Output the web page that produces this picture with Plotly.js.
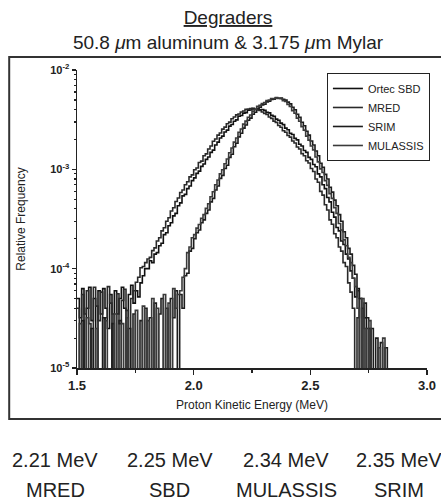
<!DOCTYPE html>
<html><head><meta charset="utf-8">
<script src="https://cdn.plot.ly/plotly-3.0.1.min.js"></script>
<style>html,body{margin:0;padding:0;background:#fff}#chart{width:441px;height:500px}</style>
</head><body><div id="chart"></div>
<script>
// ---- data ----
const energyStart = 1.50;   // MeV, first histogram bin
const energyStep = 0.01;    // MeV, bin width
const seriesNames = ['Ortec SBD', 'MRED', 'SRIM', 'MULASSIS'];
// 1e-6 marks an empty bin (drawn down to the bottom of the log axis)
const sbd = [
 5.0e-5,3.2e-5,6.3e-5,1e-6,4.0e-5,6.5e-5,3.0e-5,5.0e-5,1e-6,6.0e-5,
 3.5e-5,6.3e-5,4.0e-5,2.5e-5,5.5e-5,1e-6,6.0e-5,3.5e-5,5.0e-5,6.5e-5,
 4.0e-5,1e-6,5.5e-5,6.8e-5,4.5e-5,6.0e-5,5.2e-5,7.2e-5,8.5e-5,1.0e-4,
 1.0e-4,1.2e-4,1.15e-4,1.4e-4,1.45e-4,1.7e-4,1.8e-4,2.2e-4,2.3e-4,2.7e-4,
 2.9e-4,3.4e-4,3.6e-4,4.3e-4,4.6e-4,5.4e-4,5.6e-4,6.4e-4,6.8e-4,7.7e-4,
 8.2e-4,9.1e-4,9.6e-4,1.07e-3,1.13e-3,1.26e-3,1.33e-3,1.48e-3,1.56e-3,1.76e-3,
 1.88e-3,2.07e-3,2.16e-3,2.38e-3,2.48e-3,2.72e-3,2.83e-3,3.05e-3,3.15e-3,3.42e-3,
 3.48e-3,3.68e-3,3.72e-3,3.93e-3,3.95e-3,4.12e-3,4.02e-3,4.1e-3,3.98e-3,4.0e-3,
 3.92e-3,3.75e-3,3.7e-3,3.5e-3,3.42e-3,3.2e-3,3.12e-3,2.92e-3,2.82e-3,2.6e-3,
 2.5e-3,2.3e-3,2.24e-3,2.05e-3,1.98e-3,1.79e-3,1.72e-3,1.55e-3,1.48e-3,1.32e-3,
 1.26e-3,1.12e-3,1.06e-3,9.0e-4,8.4e-4,7.0e-4,6.4e-4,5.2e-4,4.7e-4,3.7e-4,
 3.3e-4,2.6e-4,2.4e-4,1.9e-4,1.75e-4,1.4e-4,1.25e-4,9.5e-5,8.0e-5,5.2e-5,
 6.3e-5,1e-6,4.0e-5,3.2e-5,1e-6,2.5e-5,1e-6,1e-6,1e-6,1e-6,
 1e-6,1e-6,1e-6,1e-6,1e-6,1e-6
];
const mred = [
 4.0e-5,1e-6,5.5e-5,3.5e-5,6.0e-5,2.8e-5,1e-6,6.5e-5,4.2e-5,3.0e-5,
 5.8e-5,1e-6,3.2e-5,6.6e-5,4.5e-5,3.5e-5,1e-6,5.6e-5,2.8e-5,4.8e-5,
 6.2e-5,3.8e-5,1e-6,5.0e-5,6.0e-5,7.3e-5,8.2e-5,1.02e-4,1.05e-4,1.15e-4,
 1.25e-4,1.3e-4,1.52e-4,1.62e-4,1.9e-4,2.05e-4,2.4e-4,2.58e-4,3.0e-4,3.25e-4,
 3.8e-4,4.1e-4,4.75e-4,5.15e-4,5.85e-4,6.2e-4,7.0e-4,7.5e-4,8.4e-4,8.8e-4,
 9.9e-4,1.03e-3,1.17e-3,1.21e-3,1.37e-3,1.43e-3,1.6e-3,1.72e-3,1.92e-3,2.02e-3,
 2.21e-3,2.32e-3,2.54e-3,2.66e-3,2.88e-3,2.99e-3,3.23e-3,3.36e-3,3.53e-3,3.6e-3,
 3.78e-3,3.86e-3,4.02e-3,4.04e-3,4.1e-3,4.05e-3,4.0e-3,3.96e-3,3.91e-3,3.78e-3,
 3.65e-3,3.57e-3,3.36e-3,3.26e-3,3.06e-3,2.97e-3,2.76e-3,2.65e-3,2.45e-3,2.36e-3,
 2.19e-3,2.11e-3,1.93e-3,1.84e-3,1.68e-3,1.6e-3,1.44e-3,1.37e-3,1.22e-3,1.16e-3,
 1.02e-3,9.5e-4,8.0e-4,7.4e-4,6.0e-4,5.5e-4,4.4e-4,3.9e-4,3.1e-4,2.8e-4,
 2.25e-4,2.05e-4,1.65e-4,1.5e-4,1.15e-4,1.05e-4,7.2e-5,5.8e-5,4.0e-5,1e-6,
 3.2e-5,5.0e-5,1e-6,1e-6,2.5e-5,1e-6,1e-6,1e-6,1e-6,1e-6,
 1e-6,1e-6,1e-6,1e-6,1e-6,1e-6
];
const srim = [
 1e-6,1e-6,3.0e-5,1e-6,1e-6,1e-6,2.5e-5,1e-6,1e-6,1e-6,
 1e-6,3.2e-5,1e-6,1e-6,1e-6,2.8e-5,1e-6,1e-6,3.0e-5,1e-6,
 1e-6,1e-6,2.5e-5,1e-6,3.5e-5,1e-6,1e-6,3.0e-5,1e-6,4.0e-5,
 1e-6,3.2e-5,1e-6,4.5e-5,1e-6,3.5e-5,5.0e-5,1e-6,4.0e-5,1e-6,
 5.0e-5,3.2e-5,6.0e-5,1e-6,5.5e-5,4.0e-5,8.5e-5,9.0e-5,1.5e-4,1.6e-4,
 2.0e-4,2.3e-4,2.45e-4,2.9e-4,3.1e-4,3.6e-4,3.9e-4,4.7e-4,5.1e-4,6.2e-4,
 6.8e-4,8.1e-4,8.7e-4,1.02e-3,1.1e-3,1.32e-3,1.42e-3,1.69e-3,1.83e-3,2.12e-3,
 2.31e-3,2.6e-3,2.79e-3,3.12e-3,3.28e-3,3.58e-3,3.76e-3,4.07e-3,4.22e-3,4.46e-3,
 4.52e-3,4.78e-3,4.85e-3,5.06e-3,5.08e-3,5.24e-3,5.2e-3,5.22e-3,5.08e-3,4.98e-3,
 4.75e-3,4.56e-3,4.22e-3,3.98e-3,3.59e-3,3.35e-3,2.98e-3,2.75e-3,2.42e-3,2.21e-3,
 1.93e-3,1.76e-3,1.53e-3,1.37e-3,1.15e-3,1.05e-3,8.9e-4,8.0e-4,6.6e-4,5.9e-4,
 4.9e-4,4.3e-4,3.5e-4,3.0e-4,2.35e-4,2.05e-4,1.6e-4,1.4e-4,1.08e-4,8.8e-5,
 6.0e-5,5.0e-5,1e-6,4.5e-5,3.2e-5,1e-6,2.5e-5,1e-6,2.0e-5,1e-6,
 1.8e-5,1e-6,1.6e-5,1e-6,1e-6,1e-6
];
const mulassis = [
 1e-6,2.8e-5,1e-6,1e-6,3.2e-5,1e-6,1e-6,1e-6,2.5e-5,1e-6,
 1e-6,1e-6,3.0e-5,1e-6,1e-6,1e-6,3.5e-5,1e-6,1e-6,2.8e-5,
 1e-6,3.2e-5,1e-6,1e-6,1e-6,3.8e-5,1e-6,1e-6,4.2e-5,1e-6,
 3.0e-5,1e-6,5.0e-5,1e-6,4.0e-5,1e-6,1e-6,5.5e-5,1e-6,4.5e-5,
 1e-6,6.3e-5,4.0e-5,5.5e-5,6.0e-5,8.2e-5,1.0e-4,1.45e-4,1.65e-4,2.05e-4,
 2.2e-4,2.56e-4,2.78e-4,3.22e-4,3.5e-4,4.05e-4,4.5e-4,5.3e-4,5.95e-4,7.0e-4,
 7.8e-4,9.0e-4,9.9e-4,1.14e-3,1.27e-3,1.47e-3,1.64e-3,1.88e-3,2.07e-3,2.36e-3,
 2.55e-3,2.85e-3,3.06e-3,3.34e-3,3.52e-3,3.83e-3,4.0e-3,4.3e-3,4.4e-3,4.6e-3,
 4.7e-3,4.93e-3,4.98e-3,5.16e-3,5.15e-3,5.28e-3,5.16e-3,5.15e-3,4.92e-3,4.82e-3,
 4.5e-3,4.3e-3,3.9e-3,3.67e-3,3.28e-3,3.05e-3,2.69e-3,2.48e-3,2.16e-3,1.97e-3,
 1.72e-3,1.57e-3,1.33e-3,1.19e-3,1.01e-3,9.3e-4,7.7e-4,6.9e-4,5.7e-4,5.1e-4,
 4.1e-4,3.6e-4,2.85e-4,2.45e-4,1.95e-4,1.7e-4,1.3e-4,1.15e-4,8.0e-5,6.6e-5,
 4.0e-5,1e-6,5.0e-5,2.5e-5,1e-6,3.0e-5,1e-6,1e-6,1e-6,1.6e-5,
 1e-6,2.0e-5,1e-6,1e-6,1e-6,1e-6
];
const meanEnergies = [2.21, 2.25, 2.34, 2.35];
const meanCodes = ['MRED', 'SBD', 'MULASSIS', 'SRIM'];
const xTickVals = [1.5, 2.0, 2.5, 3.0];
const xTickText = ['1.5', '2.0', '2.5', '3.0'];
const yTickVals = [1e-5, 1e-4, 1e-3, 1e-2];
const yTickText = ['10<sup>-5</sup>', '10<sup>-4</sup>', '10<sup>-3</sup>', '10<sup>-2</sup>'];

// ---- styling ----
const ink = '#222';
const lineColors = ['#111111', '#2a2a2a', '#1c1c1c', '#3a3a3a'];
const seriesData = [sbd, mred, srim, mulassis];
const traces = seriesData.map((ys, i) => ({
  type: 'scatter', mode: 'lines', name: seriesNames[i],
  x0: energyStart, dx: energyStep, y: ys,
  line: {color: lineColors[i], width: 1.6, shape: 'hv'}
}));

const colX = [-0.0627, 0.265, 0.598, 0.920];
const annotations = [];
meanEnergies.forEach((e, i) => {
  annotations.push({xref: 'paper', yref: 'paper', x: colX[i], y: -0.3087, xanchor: 'center', yanchor: 'middle',
    showarrow: false, text: e.toFixed(2) + ' MeV', font: {size: 20, color: ink}});
  annotations.push({xref: 'paper', yref: 'paper', x: colX[i], y: -0.409, xanchor: 'center', yanchor: 'middle',
    showarrow: false, text: meanCodes[i], font: {size: 20, color: ink}});
});

const layout = {
  width: 441, height: 500,
  margin: {l: 77, r: 13, t: 70, b: 132, pad: 0},
  paper_bgcolor: '#fff', plot_bgcolor: '#fff',
  font: {family: 'Liberation Sans, Arial, sans-serif', color: ink},
  showlegend: true,
  title: {
    text: '<span style="text-decoration:underline">Degraders</span><br>50.8 <i>μ</i>m aluminum &amp; 3.175 <i>μ</i>m Mylar',
    font: {size: 19, color: ink},
    xref: 'container', x: 0.517, xanchor: 'center',
    yref: 'container', y: 0.952, yanchor: 'top'
  },
  xaxis: {
    range: [1.5, 3.0], tickvals: xTickVals, ticktext: xTickText,
    ticks: 'outside', ticklen: 5, tickwidth: 1.2, tickcolor: ink,
    minor: {dtick: 0.25, tick0: 1.5, ticks: 'outside', ticklen: 3, tickcolor: ink, showgrid: false},
    showline: true, linecolor: ink, linewidth: 1.5, showgrid: false, zeroline: false,
    tickfont: {size: 13, weight: 'bold', color: ink},
    title: {text: 'Proton Kinetic Energy (MeV)', font: {size: 12, color: ink}, standoff: 8}
  },
  yaxis: {
    type: 'log', range: [-5, -2], tickvals: yTickVals, ticktext: yTickText,
    ticks: 'outside', ticklen: 4, tickwidth: 1.2, tickcolor: ink,
    minor: {dtick: 'D1', ticks: 'outside', ticklen: 2, tickcolor: ink, showgrid: false},
    showline: true, linecolor: ink, linewidth: 1.5, showgrid: false, zeroline: false,
    tickfont: {size: 11, weight: 'bold', color: ink},
    title: {text: 'Relative Frequency', font: {size: 12, color: ink}, standoff: 22}
  },
  legend: {
    x: 0.712, y: 0.99, xanchor: 'left', yanchor: 'top',
    bordercolor: ink, borderwidth: 1, bgcolor: '#fff',
    font: {size: 11, color: ink}, tracegroupgap: 0
  },
  shapes: [{
    type: 'rect', xref: 'paper', yref: 'paper',
    x0: -0.1937, x1: 1.3, y0: -0.1711, y1: 1.0436,
    line: {color: '#333', width: 2}, fillcolor: 'rgba(0,0,0,0)', layer: 'below'
  }],
  annotations: annotations
};

Plotly.newPlot('chart', traces, layout, {displayModeBar: false, staticPlot: true});
</script>
</body></html>
